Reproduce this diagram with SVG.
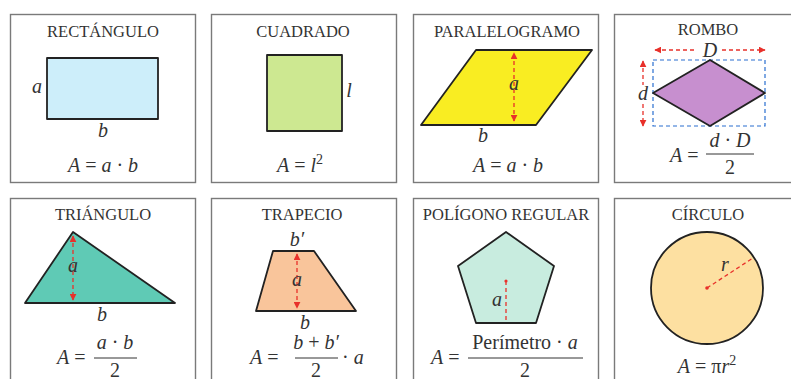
<svg xmlns="http://www.w3.org/2000/svg" width="791" height="379" viewBox="0 0 791 379">
<style>
.panel{fill:#fff;stroke:#7a7a7a;stroke-width:1.4}
.title{font-family:"Liberation Serif","DejaVu Serif",serif;font-size:16.5px;fill:#333;text-anchor:middle}
.var{font-family:"Liberation Serif","DejaVu Serif",serif;font-size:20px;font-style:italic;fill:#333;text-anchor:middle}
.f{font-family:"Liberation Serif","DejaVu Serif",serif;font-size:20px;fill:#333}
.it{font-style:italic}
.shape{stroke:#222;stroke-width:1.8;stroke-linejoin:round}
.dim{stroke:#e8302a;stroke-width:1.3;stroke-dasharray:4 3;fill:none}
.blue{stroke:#2a6fd0;stroke-width:1.2;stroke-dasharray:4 3;fill:none}
.bar{stroke:#333;stroke-width:1}
</style>
<defs>
<marker id="ah" viewBox="0 0 10 10" refX="9" refY="5" markerWidth="7" markerHeight="7" orient="auto-start-reverse" markerUnits="userSpaceOnUse">
<path d="M0,0 L10,5 L0,10 z" fill="#e8302a"/>
</marker>
</defs>
<rect width="791" height="379" fill="#fff"/>

<g id="rectangulo">
<rect class="panel" x="10.5" y="14.5" width="185" height="168"/>
<text class="title" x="103" y="37">RECTÁNGULO</text>
<rect class="shape" x="47" y="58" width="111" height="61" fill="#cdeefa"/>
<text class="var" x="37" y="93">a</text>
<text class="var" x="103" y="137">b</text>
<text class="f" x="103" y="172" text-anchor="middle"><tspan class="it">A</tspan> = <tspan class="it">a</tspan> · <tspan class="it">b</tspan></text>
</g>

<g id="cuadrado">
<rect class="panel" x="211.5" y="14.5" width="185" height="168"/>
<text class="title" x="303" y="37">CUADRADO</text>
<rect class="shape" x="267" y="55" width="75" height="76" fill="#cde891"/>
<text class="var" x="349" y="97">l</text>
<text class="f" x="300" y="172" text-anchor="middle"><tspan class="it">A</tspan> = <tspan class="it">l</tspan><tspan font-size="14" dy="-8">2</tspan></text>
</g>

<g id="paralelogramo">
<rect class="panel" x="413.5" y="14.5" width="185" height="168"/>
<text class="title" x="507" y="37">PARALELOGRAMO</text>
<polygon class="shape" points="476,50 592,50 536,125 421,125" fill="#f9ed22"/>
<line class="dim" x1="514" y1="121" x2="514" y2="53" marker-start="url(#ah)" marker-end="url(#ah)"/>
<text class="var" x="514" y="90">a</text>
<text class="var" x="483" y="142">b</text>
<text class="f" x="508" y="172" text-anchor="middle"><tspan class="it">A</tspan> = <tspan class="it">a</tspan> · <tspan class="it">b</tspan></text>
</g>

<g id="rombo">
<rect class="panel" x="614.5" y="14.5" width="190" height="168"/>
<text class="title" x="708" y="35">ROMBO</text>
<rect class="blue" x="653" y="60" width="112" height="66"/>
<polygon class="shape" points="710,60 765,93 710,126 653,93" fill="#c78fcf"/>
<line class="dim" x1="655" y1="50" x2="697" y2="50" marker-start="url(#ah)"/>
<line class="dim" x1="722" y1="50" x2="765" y2="50" marker-end="url(#ah)"/>
<text class="var" x="710" y="57">D</text>
<line class="dim" x1="643" y1="61" x2="643" y2="85" marker-start="url(#ah)"/>
<line class="dim" x1="643" y1="104" x2="643" y2="126" marker-end="url(#ah)"/>
<text class="var" x="643" y="100">d</text>
<text class="f" x="670" y="162"><tspan class="it">A</tspan> =</text>
<text class="f" x="730" y="147" text-anchor="middle"><tspan class="it">d</tspan> · <tspan class="it">D</tspan></text>
<line class="bar" x1="706" y1="154" x2="754" y2="154"/>
<text class="f" x="730" y="174" text-anchor="middle">2</text>
</g>

<g id="triangulo">
<rect class="panel" x="10.5" y="198.5" width="185" height="200"/>
<text class="title" x="103" y="220">TRIÁNGULO</text>
<polygon class="shape" points="73,232 175,303 25,303" fill="#5fcab5"/>
<line class="dim" x1="73" y1="236" x2="73" y2="300" marker-start="url(#ah)" marker-end="url(#ah)"/>
<text class="var" x="73" y="272">a</text>
<text class="var" x="102" y="321">b</text>
<text class="f" x="57" y="364"><tspan class="it">A</tspan> =</text>
<text class="f" x="115" y="349" text-anchor="middle"><tspan class="it">a</tspan> · <tspan class="it">b</tspan></text>
<line class="bar" x1="94" y1="358" x2="137" y2="358"/>
<text class="f" x="115" y="377" text-anchor="middle">2</text>
</g>

<g id="trapecio">
<rect class="panel" x="211.5" y="198.5" width="185" height="200"/>
<text class="title" x="302" y="220">TRAPECIO</text>
<polygon class="shape" points="273,251 314,251 356,311 256,311" fill="#f9c59b"/>
<line class="dim" x1="297" y1="254" x2="297" y2="308" marker-start="url(#ah)" marker-end="url(#ah)"/>
<text class="var" x="297" y="246">b′</text>
<text class="var" x="297" y="286">a</text>
<text class="var" x="305" y="329">b</text>
<text class="f" x="250" y="364"><tspan class="it">A</tspan> =</text>
<text class="f" x="316" y="349" text-anchor="middle"><tspan class="it">b</tspan> + <tspan class="it">b′</tspan></text>
<line class="bar" x1="295" y1="358" x2="338" y2="358"/>
<text class="f" x="316" y="377" text-anchor="middle">2</text>
<text class="f" x="342" y="364">· <tspan class="it">a</tspan></text>
</g>

<g id="poligono">
<rect class="panel" x="413.5" y="198.5" width="185" height="200"/>
<text class="title" x="506" y="220">POLÍGONO REGULAR</text>
<polygon class="shape" points="506,232 554,266 536,323 476,323 458,266" fill="#c8ecdf"/>
<line class="dim" x1="506" y1="281" x2="506" y2="322"/>
<circle cx="506" cy="281" r="1.6" fill="#e8302a"/>
<text class="var" x="497" y="306">a</text>
<text class="f" x="431" y="364"><tspan class="it">A</tspan> =</text>
<text class="f" x="525" y="349" text-anchor="middle">Perímetro · <tspan class="it">a</tspan></text>
<line class="bar" x1="468" y1="358" x2="583" y2="358"/>
<text class="f" x="525" y="377" text-anchor="middle">2</text>
</g>

<g id="circulo">
<rect class="panel" x="614.5" y="198.5" width="190" height="200"/>
<text class="title" x="708" y="220">CÍRCULO</text>
<circle class="shape" cx="707" cy="288" r="56" fill="#fde0a1"/>
<line class="dim" x1="707" y1="288" x2="753" y2="258"/>
<circle cx="707" cy="288" r="1.8" fill="#e8302a"/>
<text class="var" x="725" y="271">r</text>
<text class="f" x="707" y="373" text-anchor="middle"><tspan class="it">A</tspan> = π<tspan class="it">r</tspan><tspan font-size="14" dy="-8">2</tspan></text>
</g>
</svg>
